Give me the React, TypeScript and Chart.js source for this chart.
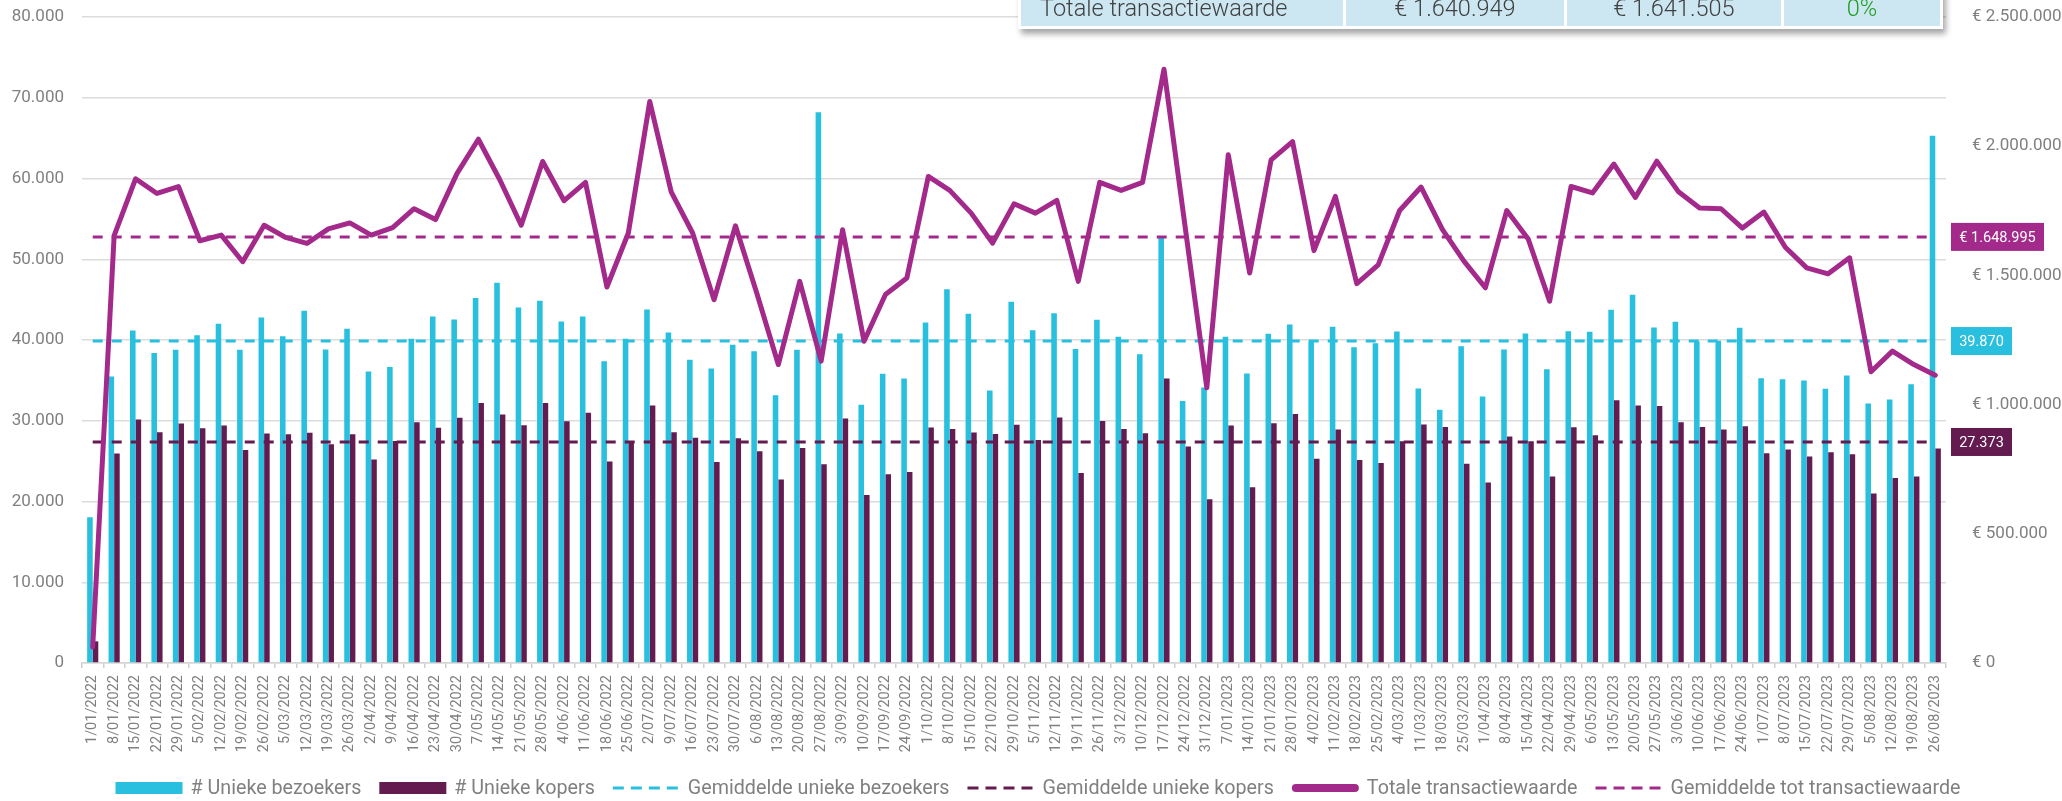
import React, { useEffect, useRef } from 'react';
import { Chart, registerables } from 'chart.js';

Chart.register(...registerables);

// ---------- DATA ----------
const categories = [
  '1/01/2022', '8/01/2022', '15/01/2022', '22/01/2022', '29/01/2022', '5/02/2022', '12/02/2022', '19/02/2022',
  '26/02/2022', '5/03/2022', '12/03/2022', '19/03/2022', '26/03/2022', '2/04/2022', '9/04/2022', '16/04/2022',
  '23/04/2022', '30/04/2022', '7/05/2022', '14/05/2022', '21/05/2022', '28/05/2022', '4/06/2022', '11/06/2022',
  '18/06/2022', '25/06/2022', '2/07/2022', '9/07/2022', '16/07/2022', '23/07/2022', '30/07/2022', '6/08/2022',
  '13/08/2022', '20/08/2022', '27/08/2022', '3/09/2022', '10/09/2022', '17/09/2022', '24/09/2022', '1/10/2022',
  '8/10/2022', '15/10/2022', '22/10/2022', '29/10/2022', '5/11/2022', '12/11/2022', '19/11/2022', '26/11/2022',
  '3/12/2022', '10/12/2022', '17/12/2022', '24/12/2022', '31/12/2022', '7/01/2023', '14/01/2023', '21/01/2023',
  '28/01/2023', '4/02/2023', '11/02/2023', '18/02/2023', '25/02/2023', '4/03/2023', '11/03/2023', '18/03/2023',
  '25/03/2023', '1/04/2023', '8/04/2023', '15/04/2023', '22/04/2023', '29/04/2023', '6/05/2023', '13/05/2023',
  '20/05/2023', '27/05/2023', '3/06/2023', '10/06/2023', '17/06/2023', '24/06/2023', '1/07/2023', '8/07/2023',
  '15/07/2023', '22/07/2023', '29/07/2023', '5/08/2023', '12/08/2023', '19/08/2023', '26/08/2023',
];

const uniqueVisitors = [
  18050, 35480, 41180, 38400, 38780, 40600, 42000, 38780, 42790, 40470,
  43610, 38820, 41380, 36100, 36670, 40140, 42910, 42540, 45200, 47100,
  44030, 44850, 42290, 42910, 37380, 40140, 43780, 40930, 37540, 36470,
  39400, 38620, 33160, 38780, 68200, 40800, 31970, 35810, 35230, 42170,
  46300, 43240, 33740, 44730, 41220, 43320, 38900, 42500, 40390, 38240,
  52700, 32460, 34110, 40390, 35850, 40760, 41920, 39770, 41630, 39110,
  39610, 41050, 33990, 31350, 39240, 33000, 38820, 40800, 36390, 41090,
  41010, 43740, 45600, 41550, 42250, 39810, 39900, 41510, 35270, 35150,
  34980, 33950, 35600, 32130, 32630, 34530, 65300,
];

const uniqueBuyers = [
  2680, 25940, 30150, 28580, 29650, 29080, 29400, 26390, 28410, 28330,
  28500, 27090, 28330, 25190, 27500, 29820, 29120, 30360, 32210, 30770,
  29450, 32210, 29940, 30980, 24950, 27260, 31880, 28580, 27880, 24900,
  27840, 26230, 22720, 26640, 24610, 30270, 20820, 23380, 23660, 29160,
  28990, 28540, 28370, 29490, 27630, 30400, 23540, 29980, 28990, 28460,
  35230, 26800, 20280, 29400, 21770, 29690, 30850, 25280, 28910, 25150,
  24780, 27460, 29530, 29240, 24660, 22340, 28040, 27460, 23090, 29200,
  28210, 32540, 31880, 31840, 29820, 29240, 28910, 29320, 25980, 26430,
  25560, 26100, 25850, 20980, 22920, 23090, 26560,
];

const totalTransactionValue = [
  62000, 1654000, 1874000, 1817000, 1844000, 1634000, 1656000, 1553000, 1694000, 1647000,
  1624000, 1680000, 1703000, 1656000, 1685000, 1758000, 1716000, 1894000, 2027000, 1870000,
  1694000, 1941000, 1789000, 1860000, 1455000, 1664000, 2173000, 1823000, 1664000, 1406000,
  1692000, 1430000, 1155000, 1477000, 1168000, 1677000, 1245000, 1426000, 1490000, 1883000,
  1829000, 1741000, 1625000, 1777000, 1741000, 1790000, 1477000, 1860000, 1829000, 1860000,
  2298000, 1680000, 1065000, 1967000, 1509000, 1947000, 2018000, 1596000, 1806000, 1468000,
  1541000, 1751000, 1842000, 1677000, 1555000, 1452000, 1751000, 1641000, 1400000, 1844000,
  1819000, 1931000, 1802000, 1942000, 1825000, 1761000, 1758000, 1683000, 1745000, 1609000,
  1529000, 1506000, 1568000, 1127000, 1207000, 1155000, 1114000,
];

const avgVisitors = 39870;
const avgBuyers = 27373;
const avgTransaction = 1648995;

const leftAxisMax = 80000;
const leftAxisStep = 10000;
const rightAxisMax = 2500000;
const rightAxisStep = 500000;

const tableRow = ['Totale transactiewaarde', '€ 1.640.949', '€ 1.641.505', '0%'];

// ---------- STYLE ----------
const CYAN = '#28C0DE';
const PLUM = '#631B50';
const MAGENTA = '#A32A8A';
const GRID = '#DCDCDC';
const TICK = '#808080';
const FONT = 'Roboto, "Noto Sans", sans-serif';
const Y_TICK_SIZE = 17;

const fmt = (v: number) => String(Math.round(v)).replace(/\B(?=(\d{3})+(?!\d))/g, '.');

const legendPlugin = {
  id: 'customLegend',
  afterDraw(chart: any) {
    const ctx = chart.ctx;
    const items = chart.data.datasets.map((ds: any) => ({
      text: ds.label,
      kind: ds.legendKind,
      color: ds.legendColor,
    }));
    ctx.save();
    ctx.font = `19.7px ${FONT}`;
    const box = 67;
    const gap = 8;
    const spacing = 18;
    const widths = items.map((it: any) => box + gap + ctx.measureText(it.text).width);
    const total = widths.reduce((a: number, b: number) => a + b, 0) + spacing * (items.length - 1);
    let x = 1038 - total / 2;
    const y = 788;
    items.forEach((it: any, i: number) => {
      if (it.kind === 'box') {
        ctx.fillStyle = it.color;
        ctx.fillRect(x, y - 6, box, 12);
      } else if (it.kind === 'dash') {
        ctx.strokeStyle = it.color;
        ctx.lineWidth = 3;
        ctx.setLineDash([11, 7]);
        ctx.beginPath();
        ctx.moveTo(x, y);
        ctx.lineTo(x + box, y);
        ctx.stroke();
        ctx.setLineDash([]);
      } else {
        ctx.strokeStyle = it.color;
        ctx.lineWidth = 8;
        ctx.lineCap = 'round';
        ctx.beginPath();
        ctx.moveTo(x + 4, y);
        ctx.lineTo(x + box - 4, y);
        ctx.stroke();
        ctx.lineCap = 'butt';
      }
      ctx.fillStyle = TICK;
      ctx.textAlign = 'left';
      ctx.textBaseline = 'middle';
      ctx.fillText(it.text, x + box + gap, y + 1);
      x += widths[i] + spacing;
    });
    ctx.restore();
  },
};

const valueBoxPlugin = {
  id: 'valueBoxes',
  afterDraw(chart: any) {
    const ctx = chart.ctx;
    const boxes = [
      { value: avgTransaction, axis: 'y1', color: MAGENTA, text: '€ ' + fmt(avgTransaction), w: 93 },
      { value: avgVisitors, axis: 'y', color: CYAN, text: fmt(avgVisitors), w: 61 },
      { value: avgBuyers, axis: 'y', color: PLUM, text: fmt(avgBuyers), w: 61 },
    ];
    ctx.save();
    ctx.font = `14.5px ${FONT}`;
    boxes.forEach((b) => {
      const yPix = chart.scales[b.axis].getPixelForValue(b.value);
      const x0 = chart.chartArea.right + 5;
      ctx.fillStyle = b.color;
      ctx.fillRect(x0, yPix - 14, b.w, 28);
      ctx.fillStyle = '#FFFFFF';
      ctx.textAlign = 'center';
      ctx.textBaseline = 'middle';
      ctx.fillText(b.text, x0 + b.w / 2, yPix + 1);
    });
    ctx.restore();
  },
};

function ChartCanvas() {
  const ref = useRef<HTMLCanvasElement | null>(null);

  useEffect(() => {
    if (!ref.current) return;
    const chart = new Chart(ref.current, {
      type: 'bar',
      data: {
        labels: categories,
        datasets: [
          {
            type: 'bar',
            label: '# Unieke bezoekers',
            data: uniqueVisitors,
            backgroundColor: CYAN,
            yAxisID: 'y',
            order: 3,
            categoryPercentage: 0.52,
            barPercentage: 1,
            legendKind: 'box',
            legendColor: CYAN,
          } as any,
          {
            type: 'bar',
            label: '# Unieke kopers',
            data: uniqueBuyers,
            backgroundColor: PLUM,
            yAxisID: 'y',
            order: 3,
            categoryPercentage: 0.52,
            barPercentage: 1,
            legendKind: 'box',
            legendColor: PLUM,
          } as any,
          {
            type: 'line',
            label: 'Gemiddelde unieke bezoekers',
            data: categories.map(() => avgVisitors),
            borderColor: CYAN,
            borderWidth: 3,
            borderDash: [10, 9],
            pointRadius: 0,
            yAxisID: 'y',
            order: 1,
            legendKind: 'dash',
            legendColor: CYAN,
          } as any,
          {
            type: 'line',
            label: 'Gemiddelde unieke kopers',
            data: categories.map(() => avgBuyers),
            borderColor: PLUM,
            borderWidth: 3,
            borderDash: [10, 9],
            pointRadius: 0,
            yAxisID: 'y',
            order: 1,
            legendKind: 'dash',
            legendColor: PLUM,
          } as any,
          {
            type: 'line',
            label: 'Totale transactiewaarde',
            data: totalTransactionValue,
            borderColor: MAGENTA,
            borderWidth: 5,
            borderJoinStyle: 'round',
            borderCapStyle: 'round',
            pointRadius: 0,
            tension: 0,
            yAxisID: 'y1',
            order: 0,
            legendKind: 'line',
            legendColor: MAGENTA,
          } as any,
          {
            type: 'line',
            label: 'Gemiddelde tot transactiewaarde',
            data: categories.map(() => avgTransaction),
            borderColor: MAGENTA,
            borderWidth: 3,
            borderDash: [10, 9],
            pointRadius: 0,
            yAxisID: 'y1',
            order: 1,
            legendKind: 'dash',
            legendColor: MAGENTA,
          } as any,
        ],
      },
      options: {
        animation: false,
        responsive: false,
        maintainAspectRatio: false,
        layout: { padding: { top: 17, left: 0, right: 0, bottom: 0 } },
        plugins: {
          legend: { display: false },
          tooltip: { enabled: false },
        },
        scales: {
          x: {
            offset: true,
            grid: {
              display: true,
              offset: true,
              drawOnChartArea: false,
              drawTicks: true,
              tickLength: 5,
              color: '#CFCFCF',
              lineWidth: 1.5,
            },
            border: { display: true, color: '#D4D4D4', width: 1.5 },
            ticks: {
              autoSkip: false,
              minRotation: 90,
              maxRotation: 90,
              padding: 7,
              color: TICK,
              font: { family: FONT, size: 14.5 },
            },
            afterFit: (scale: any) => {
              scale.height = 138;
            },
          },
          y: {
            position: 'left',
            min: 0,
            max: leftAxisMax,
            grid: { color: GRID, lineWidth: 1.5, drawTicks: false },
            border: { display: false },
            ticks: {
              stepSize: leftAxisStep,
              padding: 18,
              color: TICK,
              font: { family: FONT, size: Y_TICK_SIZE },
              callback: (v: any) => fmt(Number(v)),
            },
            afterFit: (scale: any) => {
              scale.width = 82;
              scale.paddingTop = 0;
              scale.paddingBottom = 0;
            },
          },
          y1: {
            position: 'right',
            min: 0,
            max: rightAxisMax,
            grid: { display: false, drawOnChartArea: false },
            border: { display: false },
            ticks: {
              stepSize: rightAxisStep,
              padding: 18,
              color: TICK,
              font: { family: FONT, size: Y_TICK_SIZE },
              callback: (v: any) => '€ ' + fmt(Number(v)),
            },
            afterFit: (scale: any) => {
              scale.width = 116;
              scale.paddingTop = 0;
              scale.paddingBottom = 0;
            },
          },
        },
      } as any,
      plugins: [legendPlugin, valueBoxPlugin],
    });
    return () => chart.destroy();
  }, []);

  return <canvas ref={ref} width={2062} height={801} style={{ display: 'block', width: 2062, height: 801 }} />;
}

function SummaryTable() {
  const cellBase: React.CSSProperties = {
    background: '#CDE7F2',
    height: 33,
    boxSizing: 'border-box',
    display: 'flex',
    alignItems: 'center',
    paddingBottom: 3,
    fontFamily: 'Roboto, "Open Sans", sans-serif',
    fontWeight: 300,
    fontSize: 23.5,
    lineHeight: '24px',
    color: '#404040',
    whiteSpace: 'nowrap',
  };
  const widths = [322, 218, 214, 156];
  return (
    <div
      style={{
        position: 'absolute',
        left: 1018,
        top: -10,
        width: 925,
        height: 39,
        boxSizing: 'border-box',
        padding: 3,
        display: 'flex',
        gap: 3,
        background: '#FFFFFF',
        boxShadow: '3px 5px 6px rgba(0,0,0,0.35)',
      }}
    >
      {tableRow.map((t, i) => (
        <div
          key={i}
          style={{
            ...cellBase,
            width: widths[i],
            justifyContent: i === 0 ? 'flex-start' : 'center',
            paddingLeft: i === 0 ? 19 : 0,
            color: i === 3 ? '#1E9E1E' : '#404040',
          }}
        >
          {t}
        </div>
      ))}
    </div>
  );
}

export default function App() {
  return (
    <div style={{ position: 'fixed', left: 0, top: 0, width: 2062, height: 801, background: '#FFFFFF', overflow: 'hidden' }}>
      <ChartCanvas />
      <SummaryTable />
    </div>
  );
}
